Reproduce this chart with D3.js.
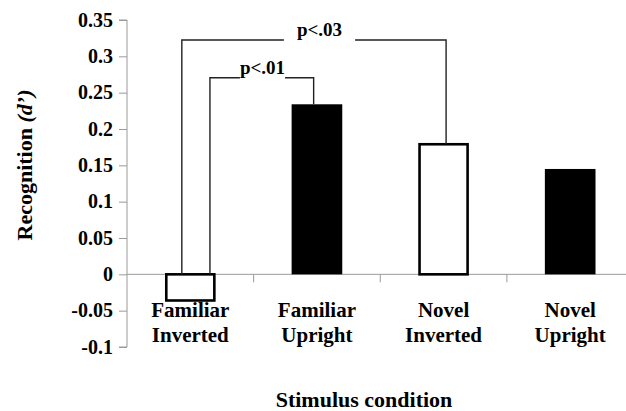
<html><head><meta charset="utf-8"><script src="https://cdn.jsdelivr.net/npm/d3@7"></script></head>
<body style="margin:0">
<div id="c"></div>
<script>
// Recognition d' by stimulus condition
const categories = ["Familiar Inverted", "Familiar Upright", "Novel Inverted", "Novel Upright"];
const labelLines = [["Familiar", "Inverted"], ["Familiar", "Upright"], ["Novel", "Inverted"], ["Novel", "Upright"]];
const values = [-0.036, 0.234, 0.179, 0.145];
const filled = [false, true, false, true];
const yTicks = [0.35, 0.3, 0.25, 0.2, 0.15, 0.1, 0.05, 0, -0.05, -0.1];
const tickLabels = ["0.35", "0.3", "0.25", "0.2", "0.15", "0.1", "0.05", "0", "-0.05", "-0.1"];
const sigLabels = ["p<.01", "p<.03"];
const sigFrom = [0, 0];
const sigTo = [1, 2];
const sigLevel = [0.2705, 0.3224];

const width = 626, height = 411;
const marginLeft = 127, marginTop = 20, marginBottom = 64;

const svg = d3.select("#c").append("svg")
  .attr("width", width)
  .attr("height", height)
  .attr("font-family", "Times New Roman")
  .attr("font-weight", "bold");

const x = d3.scaleBand()
  .domain(categories)
  .range([marginLeft, 633.5])
  .paddingInner(0.6)
  .paddingOuter(0.3);

const y = d3.scaleLinear()
  .domain([-0.1, 0.35])
  .range([height - marginBottom, marginTop]);

const step = x.step();

function txt(parent, size) {
  return parent.append("text")
    .attr("font-family", "Times New Roman")
    .attr("font-weight", "bold")
    .attr("font-size", size);
}

// y axis: line and ticks from the axis generator, labels drawn alongside
const yAxis = svg.append("g")
  .attr("transform", `translate(${marginLeft},0)`)
  .call(d3.axisLeft(y).tickValues(yTicks).tickSize(8).tickFormat(""));
yAxis.attr("font-family", null);
yAxis.select(".domain").attr("stroke", "#9a9a9a").attr("d", `M-8,${y(0.35)}H0V${y(-0.1)}H-8`);
yAxis.selectAll(".tick line").attr("stroke", "#9a9a9a");
yTicks.forEach((v, i) => {
  txt(svg, 20)
    .attr("x", marginLeft - 14)
    .attr("y", y(v))
    .attr("dy", "0.33em")
    .attr("text-anchor", "end")
    .text(tickLabels[i]);
});

// x axis at zero
const bounds = categories.slice(1).map(c => x(c) - step * 0.3);
svg.append("line")
  .attr("x1", marginLeft).attr("x2", 633.5)
  .attr("y1", y(0)).attr("y2", y(0))
  .attr("stroke", "#9a9a9a");
svg.append("g").selectAll("line")
  .data(bounds)
  .join("line")
  .attr("x1", d => d).attr("x2", d => d)
  .attr("y1", y(0)).attr("y2", y(0) + 8)
  .attr("stroke", "#9a9a9a");

// bars
svg.append("g").selectAll("rect")
  .data(values)
  .join("rect")
  .attr("x", (d, i) => x(categories[i]) + (filled[i] ? 0 : 1.3))
  .attr("width", (d, i) => x.bandwidth() - (filled[i] ? 0 : 2.6))
  .attr("y", d => y(Math.max(0, d)))
  .attr("height", d => Math.abs(y(d) - y(0)))
  .attr("fill", (d, i) => filled[i] ? "#000" : "#fff")
  .attr("stroke", (d, i) => filled[i] ? "none" : "#000")
  .attr("stroke-width", 2.6);

// significance brackets
const fromOffset = [0.655, 0.433];
const toOffset = [0.474, 0.52];
const gapPad = [0, 13];
sigLabels.forEach((lab, i) => {
  const x0 = x(categories[sigFrom[i]]) - step * 0.3 + step * fromOffset[i];
  const x1 = x(categories[sigTo[i]]) - step * 0.3 + step * toOffset[i];
  const yl = y(sigLevel[i]);
  const y0 = y(Math.max(0, values[sigFrom[i]]));
  const y1 = y(Math.max(0, values[sigTo[i]]));
  const t = txt(svg, 19)
    .attr("x", i === 0 ? 262.5 : 319.5)
    .attr("y", yl - 4)
    .attr("text-anchor", "middle")
    .text(lab);
  const bb = t.node().getBBox();
  const gl = bb.x - gapPad[i], gr = bb.x + bb.width + gapPad[i];
  svg.append("path")
    .attr("d", `M${x0},${y0}V${yl}H${gl}M${gr},${yl}H${x1}V${y1}`)
    .attr("fill", "none")
    .attr("stroke", "#222")
    .attr("stroke-width", 1.4);
});

// category labels, two lines each
labelLines.forEach((lines, i) => {
  const cx = x(categories[i]) + x.bandwidth() / 2;
  lines.forEach((s, j) => {
    txt(svg, 21)
      .attr("x", cx)
      .attr("y", 317 + j * 24.5)
      .attr("text-anchor", "middle")
      .text(s);
  });
});

// axis titles
txt(svg, 22)
  .attr("x", 364)
  .attr("y", 406.5)
  .attr("text-anchor", "middle")
  .text("Stimulus condition");

const yt = txt(svg, 22)
  .attr("transform", "translate(32,165) rotate(-90)")
  .attr("text-anchor", "middle");
yt.append("tspan").text("Recognition ");
yt.append("tspan").attr("font-style", "italic").text("(d’)");
</script></body></html>
